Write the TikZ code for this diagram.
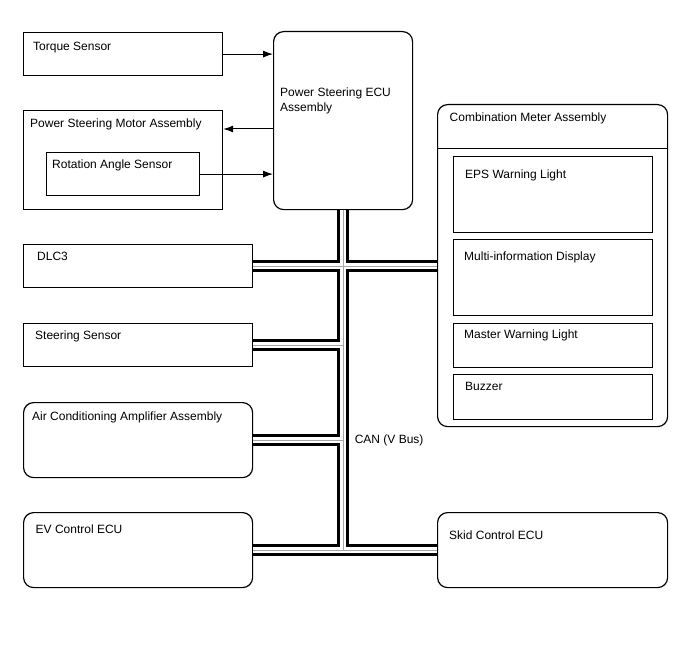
\documentclass[tikz,border=0pt]{standalone}
\usepackage{fontspec}
\setmainfont{Liberation Sans}
\usetikzlibrary{arrows.meta,positioning}

\begin{document}
\begin{tikzpicture}[
        x=1pt, y=-1pt,
        font=\fontsize{12}{14.5}\selectfont,
        unit/.style={
            draw,
            line width=1.2pt,
            anchor=north west,
            inner sep=0pt
        },
        roundunit/.style={
            unit,
            rounded corners=10pt
        },
        title/.style 2 args={
            anchor=north west,
            inner sep=0pt,
            align=left,
            xshift=#1pt,
            yshift=-#2pt
        },
        arrow/.style={-{Latex[length=10pt,width=7pt]}, line width=1pt}
    ]
        \useasboundingbox (0,0) rectangle (688,658);

        % left column
        \node[unit, minimum width=199pt, minimum height=43pt,
            label={[title={10}{9.5}]north west:Torque Sensor}] (torque) at (23,32) {};
        \node[unit, minimum width=199pt, minimum height=99pt,
            label={[title={7}{8.5}]north west:Power Steering Motor Assembly}] (motor) at (23,110) {};
        \node[unit, minimum width=153pt, minimum height=43pt,
            label={[title={6}{8}]north west:Rotation Angle Sensor}] (rotation) at (46,152) {};
        \node[unit, minimum width=229pt, minimum height=43pt,
            label={[title={14}{7.5}]north west:DLC3}] (dlc) at (23,244) {};
        \node[unit, minimum width=229pt, minimum height=43pt,
            label={[title={12}{7.5}]north west:Steering Sensor}] (steer) at (23,323) {};
        \node[roundunit, minimum width=229pt, minimum height=75pt,
            label={[title={9}{9.5}]north west:Air Conditioning Amplifier Assembly}] (aircon) at (23,402) {};
        \node[roundunit, minimum width=229pt, minimum height=75pt,
            label={[title={12.5}{13}]north west:EV Control ECU}] (ev) at (23,512) {};

        % steering ECU
        \node[roundunit, minimum width=139pt, minimum height=178pt,
            label={[title={7}{57}]north west:Power Steering ECU\\Assembly}] (ecu) at (273,31) {};

        % combination meter
        \node[roundunit, minimum width=230pt, minimum height=322pt,
            label={[title={12.5}{8.5}]north west:Combination Meter Assembly}] (meter) at (437,104) {};
        \draw[line width=0.8pt] ([yshift=-44pt]meter.north west) -- ([yshift=-44pt]meter.north east);
        \node[unit, minimum width=199pt, minimum height=76pt,
            label={[title={12}{14}]north west:EPS Warning Light}] (eps) at (453,156) {};
        \node[unit, minimum width=199pt, minimum height=76pt,
            label={[title={11}{12.5}]north west:Multi-information Display}] (mid) at (453,239) {};
        \node[unit, minimum width=199pt, minimum height=44pt,
            label={[title={11}{7}]north west:Master Warning Light}] (master) at (453,323) {};
        \node[unit, minimum width=199pt, minimum height=45pt,
            label={[title={12}{8.5}]north west:Buzzer}] (buzzer) at (453,374) {};

        \node[roundunit, minimum width=230pt, minimum height=75pt,
            label={[title={12}{18.5}]north west:Skid Control ECU}] (skid) at (437,512) {};

        % signal lines
        \coordinate (motorin) at ([yshift=-19pt]motor.north east);
        \draw[arrow] (torque.east) -- (torque.east -| ecu.west);
        \draw[arrow] (motorin -| ecu.west) -- (motorin);
        \draw[arrow] (rotation.east) -- (rotation.east -| ecu.west);

        % CAN bus
        \foreach \w/\c in {12pt/black, 6.5pt/white, 0.8pt/gray!70} {
            \draw[line width=\w, draw=\c]
                (ecu.south) -- (ecu.south |- ev.east)
                (dlc.east) -- (dlc.east -| meter.west)
                (steer.east) -- (steer.east -| ecu.south)
                (aircon.east) -- (aircon.east -| ecu.south)
                (ev.east) -- (skid.west);
        }
        \node[anchor=west, inner sep=0pt, xshift=11.5pt] (canlabel) at (aircon.east -| ecu.south) {CAN (V Bus)};
    \end{tikzpicture}
\end{document}
